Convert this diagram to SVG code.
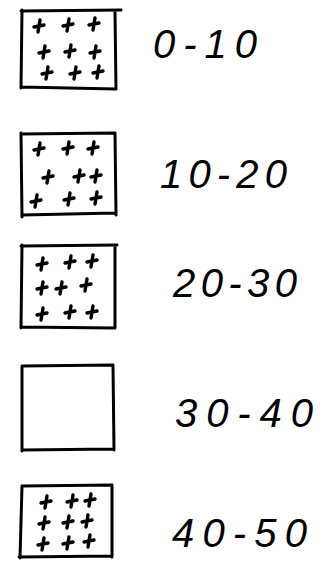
<svg xmlns="http://www.w3.org/2000/svg" xmlns:xlink="http://www.w3.org/1999/xlink" width="334" height="574" viewBox="0 0 334 574">
<style>
.box{fill:none;stroke:#000;stroke-width:3;stroke-linejoin:round;stroke-linecap:round}
.lbl{font-family:"Liberation Sans",Arial,sans-serif;font-style:italic;font-size:40px;fill:#000}
.x{fill:none;stroke:#000;stroke-width:3.4;stroke-linecap:round}
</style>
<defs>
<path id="c" class="x" d="M-5,1 L5,-1 M1,-6 L-1,6"/>
</defs>
<rect width="334" height="574" fill="#fff"/>
<g id="n1">
<path class="box" d="M21,11 L121,10 M22,10 L21,88 M21,87 L116,89 M115,11 L116,89"/>
<use href="#c" x="39" y="26"/><use href="#c" x="68" y="25"/><use href="#c" x="94" y="24"/>
<use href="#c" x="44" y="52"/><use href="#c" x="70" y="51"/><use href="#c" x="95" y="52"/>
<use href="#c" x="47" y="73"/><use href="#c" x="75" y="73"/><use href="#c" x="98" y="72"/>
<text class="lbl" x="153" y="58" textLength="104" lengthAdjust="spacing">0-10</text>
</g>
<g id="n2">
<path class="box" d="M21,134 L114,133 M21,133 L22,217 M22,215 L116,213 M115,133 L116,215"/>
<use href="#c" x="39" y="149"/><use href="#c" x="68" y="148"/><use href="#c" x="93" y="148"/>
<use href="#c" x="48" y="177"/><use href="#c" x="79" y="176"/><use href="#c" x="96" y="176"/>
<use href="#c" x="36" y="201"/><use href="#c" x="69" y="199"/><use href="#c" x="96" y="198"/>
<text class="lbl" x="160" y="188" textLength="127" lengthAdjust="spacing">10-20</text>
</g>
<g id="n3">
<path class="box" d="M21,246 L117,245 M22,245 L21,328 M21,327 L115,328 M115,246 L115,328"/>
<use href="#c" x="42" y="264"/><use href="#c" x="70" y="262"/><use href="#c" x="92" y="261"/>
<use href="#c" x="42" y="288"/><use href="#c" x="61" y="288"/><use href="#c" x="86" y="285"/>
<use href="#c" x="42" y="314"/><use href="#c" x="70" y="312"/><use href="#c" x="92" y="312"/>
<text class="lbl" x="173" y="297" textLength="124" lengthAdjust="spacing">20-30</text>
</g>
<g id="n4">
<path class="box" d="M22,366 L113,365 M22,366 L22,451 M22,450 L114,449 M113,365 L114,450"/>
<text class="lbl" x="175" y="427" textLength="138" lengthAdjust="spacing">30-40</text>
</g>
<g id="n5">
<path class="box" d="M22,486 L112,485 M22,486 L20,558 M19,557 L112,556 M112,485 L112,557"/>
<use href="#c" x="46" y="502"/><use href="#c" x="72" y="501"/><use href="#c" x="90" y="500"/>
<use href="#c" x="44" y="523"/><use href="#c" x="68" y="522"/><use href="#c" x="87" y="521"/>
<use href="#c" x="43" y="544"/><use href="#c" x="68" y="543"/><use href="#c" x="89" y="541"/>
<text class="lbl" x="172" y="547" textLength="135" lengthAdjust="spacing">40-50</text>
</g>
<g id="connectors"/>
</svg>
